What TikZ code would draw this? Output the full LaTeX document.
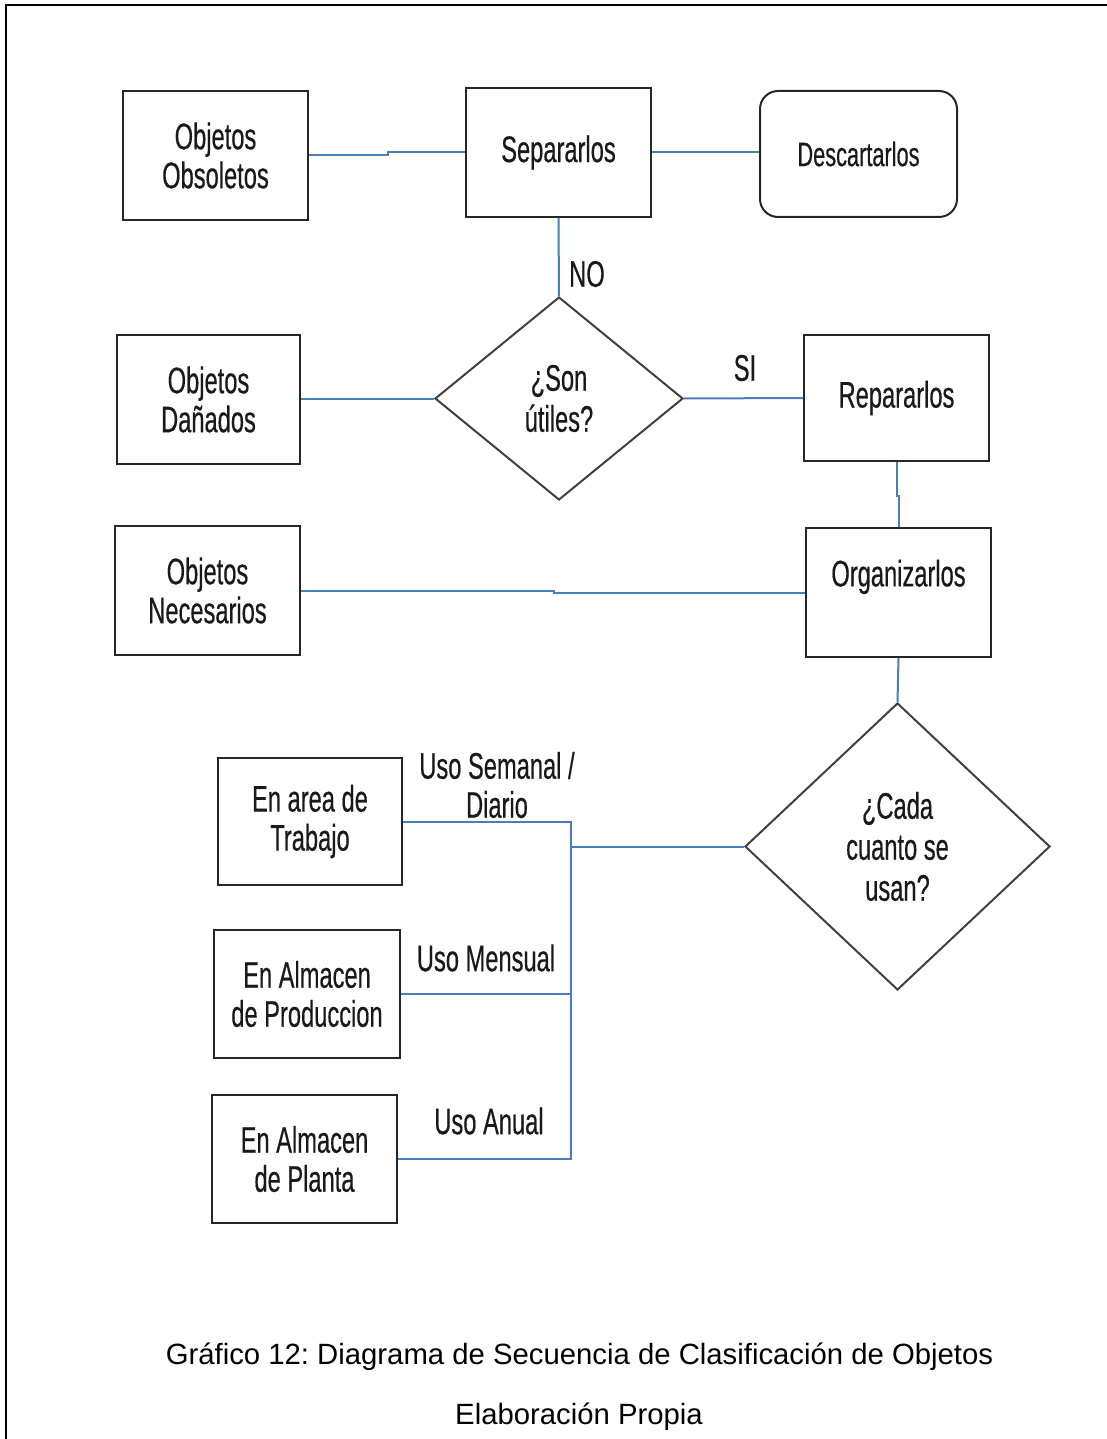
\documentclass[tikz,border=0pt]{standalone}
\usepackage{fontspec}
\setmainfont{Liberation Sans}
\newfontfamily\nar[FakeStretch=0.64,FakeBold=0.4]{Liberation Sans}
\usetikzlibrary{shapes.geometric}
\definecolor{conn}{HTML}{4A7EBB}
\frenchspacing
\begin{document}
\begin{tikzpicture}[x=1pt,y=-1pt,
  box/.style={draw=black!85, line width=2pt, inner sep=0pt, align=center,
    font=\nar\fontsize{37}{39}\selectfont, text=black!90},
  dia/.style={diamond, draw=black!75, line width=2pt, inner sep=0pt, align=center,
    font=\nar\fontsize{37}{41}\selectfont, text=black!90},
  lab/.style={inner sep=0pt, align=center, font=\nar\fontsize{37}{39}\selectfont, text=black!90},
  con/.style={draw=conn, line width=2pt}]
\useasboundingbox (0,0) rectangle (1107,1439);
\draw[line width=2.5pt] (6,1439) -- (6,5) -- (1107,5);

\node[box, minimum width=185, minimum height=129] (obs) at (215.5,155.5) {Objetos\\Obsoletos};
\node[box, minimum width=185, minimum height=129] (sep) at (558.5,152.5) {Separarlos};
\node[box, rounded corners=18pt, minimum width=197, minimum height=126, font=\nar\fontsize{34}{39}\selectfont] (desc) at (858.5,154) {Descartarlos};
\node[dia, minimum width=248, minimum height=203, aspect=1.22] (d1) at (559,398.5) {¿Son\\útiles?};
\node[box, minimum width=183, minimum height=129] (dan) at (208.5,399.5) {Objetos\\Dañados};
\node[box, minimum width=185, minimum height=126] (rep) at (896.5,398) {Repararlos};
\node[box, minimum width=185, minimum height=129] (org) at (898.5,592.5) {Organizarlos\\\phantom{X}};
\node[box, minimum width=185, minimum height=129] (nec) at (207.5,590.5) {Objetos\\Necesarios};
\node[dia, minimum width=305, minimum height=287, aspect=1.06] (d2) at (897.5,846.5) {¿Cada\\cuanto se\\usan?};
\node[box, minimum width=184, minimum height=127] (trab) at (310,821.5) {En area de\\Trabajo};
\node[box, minimum width=186, minimum height=128] (prod) at (307,994) {En Almacen\\de Produccion};
\node[box, minimum width=185, minimum height=128] (plan) at (304.5,1159) {En Almacen\\de Planta};

\coordinate (bus) at (571,846.5);

\draw[con] (obs.east) -- ++(79,0) |- (sep.west);
\draw[con] (sep.east) -- (sep.east -| desc.west);
\draw[con] (sep.south) -- (d1.north);
\draw[con] (dan.east |- d1.west) -- (d1.west);
\draw[con] (d1.east) -- (rep.west);
\draw[con] (rep.south) -- ++(0,34) -| (org.north);
\draw[con] (nec.east) -- ++(253,0) |- (org.west);
\draw[con] (org.south) -- (d2.north);
\draw[con] (d2.west) -- (bus);
\draw[con] (trab.east) -| (bus);
\draw[con] (prod.east) -| (bus);
\draw[con] (plan.east) -| (bus);

\node[lab] (no) at (587,274) {NO};
\node[lab] (si) at (745,368) {SI};
\node[lab] (l1) at (497,785) {Uso Semanal /\\Diario};
\node[lab] (l2) at (486,958) {Uso Mensual};
\node[lab] (l3) at (489,1121) {Uso Anual};

\node[inner sep=0pt, font=\fontsize{29.3}{35}\selectfont] (cap) at (579.5,1357) {Gráfico 12: Diagrama de Secuencia de Clasificación de Objetos};
\node[inner sep=0pt, font=\fontsize{29.3}{35}\selectfont] (src) at (579,1417) {Elaboración Propia};
\end{tikzpicture}
\end{document}
